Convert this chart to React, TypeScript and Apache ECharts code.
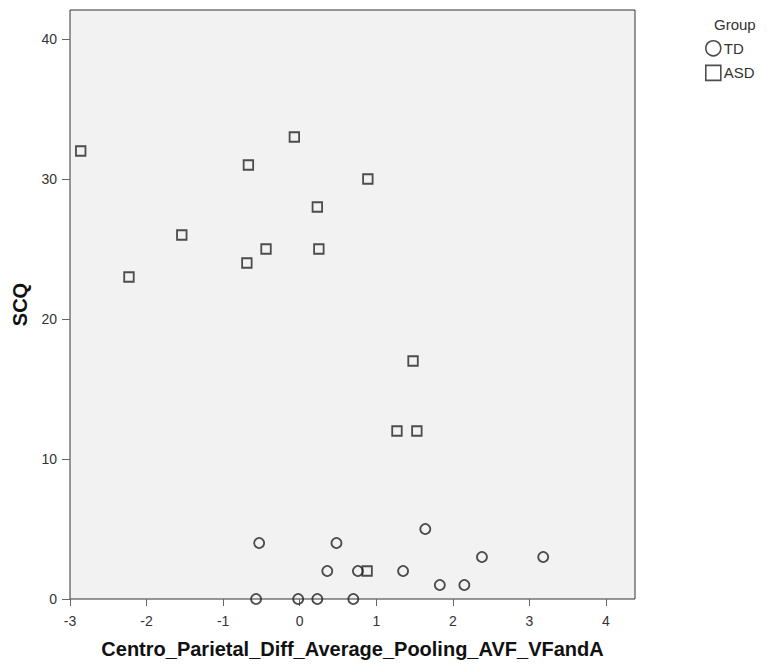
import React, { useEffect, useRef } from "react";
import * as echarts from "echarts";

const tdX = [-0.57, -0.02, 0.23, 0.7, -0.53, 0.48, 0.36, 0.76, 1.35, 1.64, 2.38, 3.18, 1.83, 2.15];
const tdY = [0, 0, 0, 0, 4, 4, 2, 2, 2, 5, 3, 3, 1, 1];
const asdX = [-2.86, -2.23, -1.54, -0.67, -0.69, -0.44, -0.07, 0.23, 0.25, 0.89, 1.48, 1.27, 1.53, 0.88];
const asdY = [32, 23, 26, 31, 24, 25, 33, 28, 25, 30, 17, 12, 12, 2];
const groups = ["TD", "ASD"];
const xTitle = "Centro_Parietal_Diff_Average_Pooling_AVF_VFandA";
const yTitle = "SCQ";
const legendTitle = "Group";

const FONT = "'Liberation Sans', Arial, sans-serif";

export default function App() {
  const ref = useRef<HTMLDivElement>(null);
  useEffect(() => {
    if (!ref.current) return;
    const chart = echarts.init(ref.current, null, { renderer: "svg" });
    const pxPerX = 536 / 7;
    const pxPerY = 560 / 40;
    const xMax = -3 + 565 / pxPerX;
    const yMax = 589 / pxPerY;
    const markStyle = { color: "rgba(0,0,0,0)", borderColor: "#222", borderWidth: 1.8 };
    chart.setOption({
      animation: false,
      textStyle: { fontFamily: FONT },
      title: {
        text: legendTitle,
        left: 709,
        top: 12,
        textStyle: { fontSize: 15, fontWeight: "normal", color: "#333", fontFamily: FONT },
      },
      legend: {
        orient: "vertical",
        left: 700,
        top: 35,
        itemWidth: 15,
        itemHeight: 15,
        itemGap: 8,
        textStyle: { fontSize: 15, color: "#333", fontFamily: FONT, padding: [0, 0, 0, -2] },
        data: [
          { name: groups[0], icon: "circle", itemStyle: { color: "rgba(0,0,0,0)", borderColor: "#222", borderWidth: 1.6 } },
          { name: groups[1], icon: "rect", itemStyle: { color: "rgba(0,0,0,0)", borderColor: "#222", borderWidth: 1.6 } },
        ],
      },
      grid: [
        { left: 70, top: 10, width: 565, height: 589, show: true, backgroundColor: "#f2f2f2", borderColor: "#333", borderWidth: 1 },
        { left: 70, top: 39, width: 536, height: 560, show: false },
      ],
      xAxis: [
        {
          gridIndex: 0, type: "value", min: -3, max: xMax,
          axisLine: { show: false }, axisTick: { show: false }, axisLabel: { show: false }, splitLine: { show: false },
          name: xTitle, nameLocation: "middle", nameGap: 40,
          nameTextStyle: { fontSize: 20, fontWeight: "bold", color: "#111", fontFamily: FONT },
        },
        {
          gridIndex: 1, type: "value", min: -3, max: 4, interval: 1, position: "bottom",
          axisLine: { show: false, onZero: false }, splitLine: { show: false },
          axisTick: { show: true, length: 7, lineStyle: { color: "#666", width: 1 } },
          axisLabel: { fontSize: 14, color: "#333", margin: 15, fontFamily: FONT },
        },
      ],
      yAxis: [
        {
          gridIndex: 0, type: "value", min: 0, max: yMax,
          axisLine: { show: false }, axisTick: { show: false }, axisLabel: { show: false }, splitLine: { show: false },
          name: yTitle, nameLocation: "middle", nameGap: 40,
          nameTextStyle: { fontSize: 20, fontWeight: "bold", color: "#111", fontFamily: FONT },
        },
        {
          gridIndex: 1, type: "value", min: 0, max: 40, interval: 10, position: "left",
          axisLine: { show: false, onZero: false }, splitLine: { show: false },
          axisTick: { show: true, length: 8, lineStyle: { color: "#666", width: 1 } },
          axisLabel: { fontSize: 14, color: "#333", margin: 13, fontFamily: FONT },
        },
      ],
      series: [
        {
          name: groups[0], type: "scatter", xAxisIndex: 0, yAxisIndex: 0,
          symbol: "circle", symbolSize: 10, itemStyle: markStyle, clip: true,
          data: tdX.map((x, i) => [x, tdY[i]]),
        },
        {
          name: groups[1], type: "scatter", xAxisIndex: 0, yAxisIndex: 0,
          symbol: "rect", symbolSize: 9.5, itemStyle: markStyle, clip: true,
          data: asdX.map((x, i) => [x, asdY[i]]),
        },
      ],
    });
    return () => chart.dispose();
  }, []);
  return <div ref={ref} style={{ position: "absolute", left: 0, top: 0, width: 769, height: 665 }} />;
}
